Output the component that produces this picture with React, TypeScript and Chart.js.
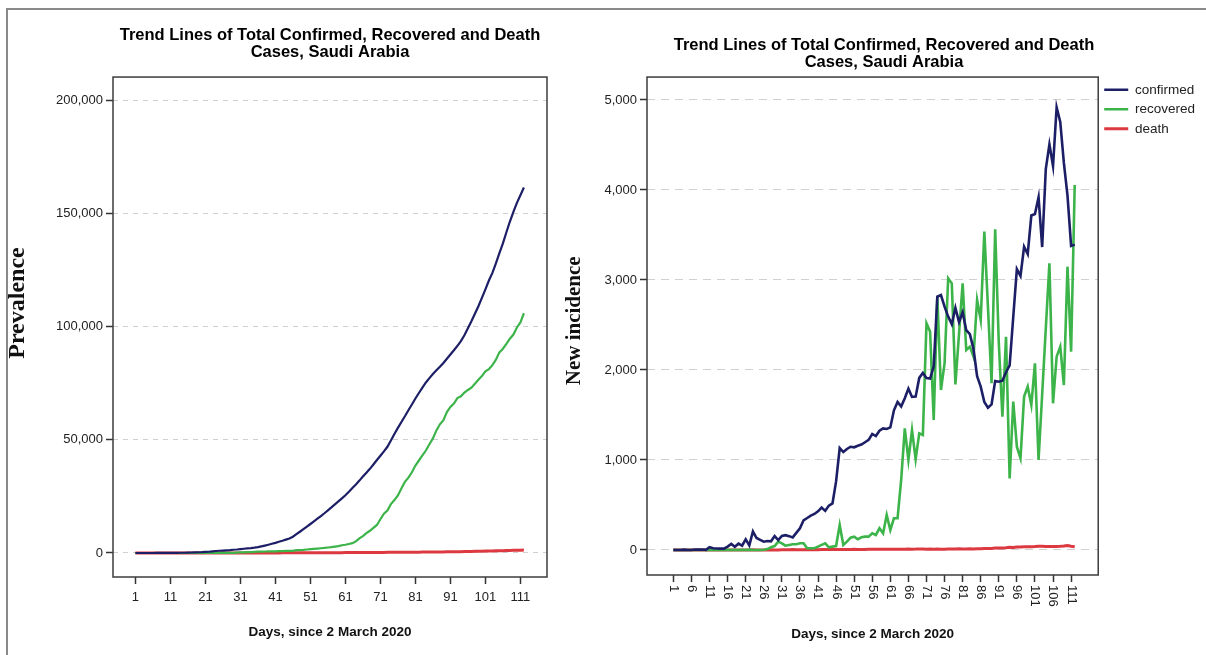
import React, { useEffect, useRef } from 'react';
import { Chart, registerables } from 'chart.js';

Chart.register(...registerables);

const SANS = "'Liberation Sans', Arial, Helvetica, sans-serif";
const SERIF = "'Liberation Serif', 'Times New Roman', serif";
const NAVY = '#1d1f66';
const GREEN = '#3cb44a';
const RED = '#dc3a40';

const titleLines = ['Trend Lines of Total Confirmed, Recovered and Death', 'Cases, Saudi Arabia'];
const xTitle = 'Days, since 2 March 2020';
const leftYTitle = '        Prevalence';
const rightYTitle = '  New incidence';
const seriesNames = ['confirmed', 'recovered', 'death'];

// Day index 1..112 (categories)
const days = Array.from({ length: 112 }, (_, i) => i + 1);

// Tick labels
const leftTickDays = [1, 11, 21, 31, 41, 51, 61, 71, 81, 91, 101, 111];
const rightTickDays = [1, 6, 11, 16, 21, 26, 31, 36, 41, 46, 51, 56, 61, 66, 71, 76, 81, 86, 91, 96, 101, 106, 111];
const prevalenceTicks = [0, 50000, 100000, 150000, 200000];
const incidenceTicks = [0, 1000, 2000, 3000, 4000, 5000];

// Left chart: cumulative totals
const totalConfirmed = [
  1, 1, 1, 5, 5, 5, 11, 15, 20, 21,
  51, 71, 88, 103, 118, 156, 223, 259, 329, 377,
  496, 547, 752, 885, 997, 1089, 1188, 1284, 1438, 1548,
  1705, 1870, 2024, 2164, 2354, 2594, 2924, 3279, 3661, 4061,
  4490, 4962, 5397, 5890, 6408, 7170, 8302, 9390, 10512, 11659,
  12800, 13958, 15130, 16327, 17550, 18839, 20105, 21430, 22781, 24125,
  25487, 27039, 28684, 30279, 31966, 33759, 35460, 37164, 39076, 41042,
  42953, 44858, 46897, 49712, 52545, 55249, 57842, 60351, 63042, 65574,
  68216, 70658, 73057, 75292, 77223, 79038, 80682, 82263, 83881, 85758,
  87627, 89508, 91483, 93533, 96124, 99245, 102290, 105659, 108947, 112664,
  116397, 120318, 123684, 127917, 132424, 136691, 141610, 146367, 150668, 154609, 157988, 161381,
];
const totalRecovered = [
  0, 0, 0, 0, 0, 0, 0, 0, 0, 0,
  0, 0, 0, 0, 0, 0, 1, 1, 1, 2,
  2, 6, 6, 6, 6, 9, 19, 49, 93, 186,
  260, 308, 364, 427, 490, 564, 638, 657, 676, 695,
  732, 788, 862, 892, 929, 973, 1251, 1307, 1400, 1537,
  1685, 1804, 1945, 2093, 2241, 2426, 2593, 2834, 3019, 3408,
  3630, 3982, 4334, 5112, 6464, 7464, 8797, 9804, 11100, 12378,
  14896, 17322, 18766, 21581, 23359, 25433, 28452, 31415, 33255, 35655,
  38618, 40840, 43099, 45247, 48025, 50581, 54118, 56818, 58670, 62233,
  64533, 66014, 68384, 69180, 70828, 71976, 72995, 74699, 76514, 78125,
  80199, 81199, 82929, 85389, 88574, 90204, 92352, 94611, 96444, 99592, 101796, 105852,
];
const totalDeath = [
  0, 0, 0, 0, 0, 0, 0, 0, 0, 0,
  0, 0, 0, 0, 0, 0, 0, 0, 0, 0,
  1, 1, 3, 3, 4, 4, 5, 7, 7, 8,
  10, 12, 15, 19, 22, 25, 28, 34, 37, 41,
  44, 50, 55, 61, 67, 71, 75, 79, 85, 90,
  98, 104, 110, 115, 122, 129, 138, 145, 153, 160,
  167, 174, 182, 191, 199, 209, 218, 228, 240, 251,
  260, 272, 281, 291, 300, 309, 319, 330, 342, 355,
  367, 378, 391, 403, 418, 432, 448, 464, 481, 503,
  525, 547, 571, 601, 628, 660, 694, 730, 767, 804,
  842, 883, 924, 963, 1003, 1042, 1082, 1124, 1169, 1219, 1261, 1296,
];

// Right chart: daily new cases
const newConfirmed = [
  1, 0, 0, 4, 0, 0, 6, 4, 5, 1,
  30, 20, 17, 15, 15, 38, 67, 36, 70, 48,
  119, 51, 205, 133, 112, 92, 99, 96, 154, 110,
  157, 165, 154, 140, 190, 240, 330, 355, 382, 400,
  429, 472, 435, 493, 518, 762, 1132, 1088, 1122, 1147,
  1141, 1158, 1172, 1197, 1223, 1289, 1266, 1325, 1351, 1344,
  1362, 1552, 1645, 1595, 1687, 1793, 1701, 1704, 1912, 1966,
  1911, 1905, 2039, 2815, 2833, 2704, 2593, 2509, 2691, 2532,
  2642, 2442, 2399, 2235, 1931, 1815, 1644, 1581, 1618, 1877,
  1869, 1881, 1975, 2050, 2591, 3121, 3045, 3369, 3288, 3717,
  3733, 3921, 3366, 4233, 4507, 4267, 4919, 4757, 4301, 3941, 3379, 3393,
];
const newRecovered = [
  0, 0, 0, 0, 0, 0, 0, 0, 0, 0,
  0, 0, 0, 0, 0, 0, 1, 0, 0, 1,
  0, 4, 0, 0, 0, 3, 10, 30, 44, 93,
  74, 48, 56, 63, 63, 74, 74, 19, 19, 19,
  37, 56, 74, 30, 37, 44, 278, 56, 93, 137,
  148, 119, 141, 148, 148, 185, 167, 241, 185, 389,
  222, 352, 352, 778, 1352, 1000, 1333, 1007, 1296, 1278,
  2518, 2426, 1444, 2815, 1778, 2074, 3019, 2963, 1840, 2400,
  2963, 2222, 2259, 2148, 2778, 2556, 3537, 2700, 1852, 3563,
  2300, 1481, 2370, 796, 1648, 1148, 1019, 1704, 1815, 1611,
  2074, 1000, 1730, 2460, 3185, 1630, 2148, 2259, 1833, 3148, 2204, 4056,
];
const newDeath = [
  0, 0, 0, 0, 0, 0, 0, 0, 0, 0,
  0, 0, 0, 0, 0, 0, 0, 0, 0, 0,
  1, 0, 2, 0, 1, 0, 1, 2, 0, 1,
  2, 2, 3, 4, 3, 3, 3, 6, 3, 4,
  3, 6, 5, 6, 6, 4, 4, 4, 6, 5,
  8, 6, 6, 5, 7, 7, 9, 7, 8, 7,
  7, 7, 8, 9, 8, 10, 9, 10, 12, 11,
  9, 12, 9, 10, 9, 9, 10, 11, 12, 13,
  12, 11, 13, 12, 15, 14, 16, 16, 17, 22,
  22, 22, 24, 30, 27, 32, 34, 36, 37, 37,
  38, 41, 41, 39, 40, 39, 40, 42, 45, 50, 42, 35,
];

const boxBorder = {
  id: 'boxBorder',
  afterDraw(chart: any) {
    const { ctx, chartArea: a } = chart;
    ctx.save();
    ctx.strokeStyle = '#3c3c3c';
    ctx.lineWidth = 1.5;
    ctx.strokeRect(a.left, a.top, a.right - a.left, a.bottom - a.top);
    ctx.restore();
  },
};

const makeRotatedTicks = (values: number[], offset: number) => ({
  id: 'rotatedTicks',
  afterDraw(chart: any) {
    const sc = chart.scales.x;
    const ctx = chart.ctx;
    ctx.save();
    ctx.font = `13px ${SANS}`;
    ctx.fillStyle = '#222';
    ctx.textAlign = 'left';
    ctx.textBaseline = 'middle';
    values.forEach((v) => {
      const x = sc.getPixelForValue(v);
      ctx.save();
      ctx.translate(x, sc.top + offset);
      ctx.rotate(Math.PI / 2);
      ctx.fillText(String(v), 0, 0);
      ctx.restore();
    });
    ctx.restore();
  },
});

const fmt = (v: any) => Number(v).toLocaleString('en-US');

const titleFont = { family: SANS, size: 16.5, weight: 'bold', lineHeight: 1.05 };
const axisTitleFont = { family: SANS, size: 13.5, weight: 'bold' };
const tickFont = { family: SANS, size: 13 };

function leftConfig(): any {
  return {
    type: 'line',
    data: {
      labels: days,
      datasets: [
        { label: seriesNames[0], data: totalConfirmed, borderColor: NAVY, backgroundColor: NAVY, borderWidth: 2.2, pointRadius: 0, tension: 0 },
        { label: seriesNames[1], data: totalRecovered, borderColor: GREEN, backgroundColor: GREEN, borderWidth: 2.2, pointRadius: 0, tension: 0 },
        { label: seriesNames[2], data: totalDeath, borderColor: RED, backgroundColor: RED, borderWidth: 3, pointRadius: 0, tension: 0 },
      ],
    },
    options: {
      responsive: false,
      maintainAspectRatio: false,
      animation: false,
      layout: { padding: { left: 0, right: 61, top: 26.4, bottom: 15 } },
      plugins: {
        legend: { display: false },
        tooltip: { enabled: false },
        title: {
          display: true,
          text: titleLines,
          fullSize: false,
          color: '#000',
          font: titleFont,
          padding: { top: 0, bottom: 16 },
        },
      },
      scales: {
        x: {
          type: 'linear',
          min: -5.4,
          max: 118.6,
          afterBuildTicks: (ax: any) => { ax.ticks = leftTickDays.map((v) => ({ value: v })); },
          ticks: { autoSkip: false, maxRotation: 0, minRotation: 0, padding: 6, color: '#222', font: tickFont, callback: (v: any) => String(v) },
          grid: { drawOnChartArea: false, drawTicks: true, tickLength: 7, tickColor: '#333', tickWidth: 1.5 },
          border: { display: false },
          title: { display: true, text: xTitle, color: '#111', font: axisTitleFont, padding: { top: 0, bottom: 0 } },
          afterFit: (s: any) => { s.height = 63; },
        },
        y: {
          type: 'linear',
          min: -10600,
          max: 210150,
          afterBuildTicks: (ax: any) => { ax.ticks = prevalenceTicks.map((v) => ({ value: v })); },
          ticks: { padding: 3, color: '#222', font: tickFont, callback: fmt },
          grid: { color: '#d0d0d0', lineWidth: 1, drawTicks: true, tickLength: 7, tickColor: '#333', tickWidth: 1.5, tickBorderDash: [] },
          border: { display: false, dash: [5, 5] },
          title: { display: true, text: leftYTitle, color: '#111', font: { family: SERIF, size: 24, weight: 'bold', lineHeight: 1 }, padding: { top: -2, bottom: 0 } },
          afterFit: (s: any) => { s.width = 105; },
        },
      },
    },
    plugins: [boxBorder],
  };
}

function rightConfig(): any {
  return {
    type: 'line',
    data: {
      labels: days,
      datasets: [
        { label: seriesNames[0], data: newConfirmed, borderColor: NAVY, backgroundColor: NAVY, borderWidth: 2.6, pointRadius: 0, tension: 0 },
        { label: seriesNames[1], data: newRecovered, borderColor: GREEN, backgroundColor: GREEN, borderWidth: 2.6, pointRadius: 0, tension: 0 },
        { label: seriesNames[2], data: newDeath, borderColor: RED, backgroundColor: RED, borderWidth: 3, pointRadius: 0, tension: 0 },
      ],
    },
    options: {
      responsive: false,
      maintainAspectRatio: false,
      animation: false,
      layout: { padding: { left: 7, right: 1, top: 36.4, bottom: 12.2 } },
      plugins: {
        tooltip: { enabled: false },
        title: {
          display: true,
          text: titleLines,
          color: '#000',
          font: titleFont,
          padding: { top: 0, bottom: 6 },
        },
        legend: {
          display: true,
          position: 'right',
          align: 'start',
          fullSize: false,
          labels: {
            usePointStyle: true,
            pointStyle: 'line',
            pointStyleWidth: 24,
            padding: 6,
            color: '#222',
            font: { family: SANS, size: 13.5 },
          },
        },
      },
      scales: {
        x: {
          type: 'linear',
          min: -6.3,
          max: 118.5,
          afterBuildTicks: (ax: any) => { ax.ticks = rightTickDays.map((v) => ({ value: v })); },
          ticks: { display: false, autoSkip: false },
          grid: { drawOnChartArea: false, drawTicks: true, tickLength: 7, tickColor: '#333', tickWidth: 1.5 },
          border: { display: false },
          title: { display: true, text: xTitle, color: '#111', font: axisTitleFont, padding: { top: 0, bottom: 0 } },
          afterFit: (s: any) => { s.height = 67.8; },
        },
        y: {
          type: 'linear',
          min: -278,
          max: 5255,
          afterBuildTicks: (ax: any) => { ax.ticks = incidenceTicks.map((v) => ({ value: v })); },
          ticks: { padding: 3, color: '#222', font: tickFont, callback: fmt },
          grid: { color: '#d0d0d0', lineWidth: 1, drawTicks: true, tickLength: 7, tickColor: '#333', tickWidth: 1.5, tickBorderDash: [] },
          border: { display: false, dash: [8, 6] },
          title: { display: true, text: rightYTitle, color: '#111', font: { family: SERIF, size: 21, weight: 'bold', lineHeight: 1 }, padding: { top: 1.5, bottom: 0 } },
          afterFit: (s: any) => { s.width = 84; },
        },
      },
    },
    plugins: [boxBorder, makeRotatedTicks(rightTickDays, 10)],
  };
}

export default function App() {
  const leftRef = useRef<HTMLCanvasElement>(null);
  const rightRef = useRef<HTMLCanvasElement>(null);

  useEffect(() => {
    Chart.defaults.font.family = SANS;
    const c1 = new Chart(leftRef.current as HTMLCanvasElement, leftConfig());
    const c2 = new Chart(rightRef.current as HTMLCanvasElement, rightConfig());
    return () => {
      c1.destroy();
      c2.destroy();
    };
  }, []);

  return (
    <div style={{ position: 'fixed', left: 0, top: 0, width: 1206, height: 655, overflow: 'hidden', background: '#fff' }}>
      <div style={{ position: 'absolute', left: 6, top: 8, width: 1220, height: 670, borderTop: '2px solid #8a8a8a', borderLeft: '2px solid #8a8a8a' }} />
      <canvas ref={leftRef} width={600} height={655} style={{ position: 'absolute', left: 8, top: 0 }} />
      <canvas ref={rightRef} width={650} height={655} style={{ position: 'absolute', left: 556, top: 0 }} />
    </div>
  );
}
